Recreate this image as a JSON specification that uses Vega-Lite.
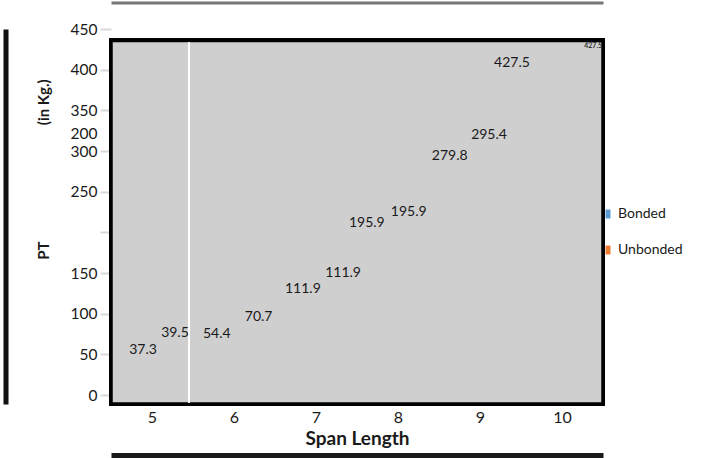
{
  "$schema": "https://vega.github.io/schema/vega-lite/v6.json",
  "autosize": {"type": "none"},
  "width": 492,
  "height": 375,
  "padding": {"left": 111, "top": 29, "right": 106, "bottom": 54},
  "background": "white",
  "config": {"view": {"stroke": null}},
  "data": {"values": [
    {"span": 4.89, "pt": 55.3, "label": "37.3", "series": "Bonded"},
    {"span": 5.28, "pt": 76.2, "label": "39.5", "series": "Unbonded"},
    {"span": 5.79, "pt": 75.0, "label": "54.4", "series": "Bonded"},
    {"span": 6.30, "pt": 95.9, "label": "70.7", "series": "Unbonded"},
    {"span": 6.84, "pt": 130.3, "label": "111.9", "series": "Bonded"},
    {"span": 7.33, "pt": 150.0, "label": "111.9", "series": "Unbonded"},
    {"span": 7.62, "pt": 211.5, "label": "195.9", "series": "Bonded"},
    {"span": 8.13, "pt": 225.0, "label": "195.9", "series": "Unbonded"},
    {"span": 8.63, "pt": 293.9, "label": "279.8", "series": "Bonded"},
    {"span": 9.11, "pt": 319.7, "label": "295.4", "series": "Unbonded"},
    {"span": 9.39, "pt": 408.2, "label": "427.5", "series": "Bonded"},
    {"span": 10.38, "pt": 429.6, "label": "427.5", "series": "Unbonded"}
  ]},
  "resolve": {"axis": {"x": "independent", "y": "independent"}},
  "layer": [
    {
      "mark": {"type": "rect", "fill": "#d0cfd0", "stroke": "#000000", "strokeWidth": 3.5},
      "encoding": {
        "x": {"datum": 4.5, "type": "quantitative", "scale": {"domain": [4.5, 10.5], "nice": false, "zero": false},
          "axis": {"orient": "bottom", "values": [5, 6, 7, 8, 9, 10], "format": "d", "domain": false, "ticks": false, "tickSize": 0, "grid": false,
            "labelFont": "Lato", "labelFontSize": 16, "labelColor": "#1a1a1a", "labelPadding": 5,
            "title": "Span Length", "titleFont": "Lato", "titleFontSize": 19, "titleFontWeight": "bold", "titleColor": "#1a1a1a", "titlePadding": 4}},
        "x2": {"datum": 10.5},
        "y": {"datum": -11, "type": "quantitative", "scale": {"domain": [-11, 450], "nice": false, "zero": false},
          "axis": {"orient": "left", "values": [0, 50, 100, 150, 200, 250, 300, 321, 350, 400, 450], "format": "d",
            "labelExpr": "datum.value == 200 ? '' : (datum.value == 321 ? '200' : datum.label)",
            "tickOpacity": {"condition": {"test": "datum.value == 321", "value": 0}, "value": 1},
            "domain": false, "grid": false, "tickSize": 11, "tickWidth": 2, "tickColor": "#d9d9d9",
            "labelFont": "Lato", "labelFontSize": 15.5, "labelColor": "#1a1a1a", "labelPadding": 3,
            "title": "PT\u00a0\u00a0\u00a0\u00a0\u00a0\u00a0\u00a0\u00a0\u00a0\u00a0\u00a0\u00a0\u00a0\u00a0\u00a0\u00a0\u00a0\u00a0\u00a0\u00a0\u00a0\u00a0\u00a0\u00a0\u00a0\u00a0\u00a0\u00a0\u00a0\u00a0\u00a0\u00a0(in Kg.)",
            "titleFont": "Lato", "titleFontSize": 15, "titleFontWeight": "bold", "titleColor": "#1a1a1a", "titleX": -60, "titleY": 140}},
        "y2": {"datum": 436}
      }
    },
    {
      "mark": {"type": "rule", "color": "#ffffff", "strokeWidth": 1.5},
      "encoding": {
        "x": {"datum": 5.45, "type": "quantitative", "axis": null},
        "y": {"datum": -9, "type": "quantitative", "axis": null},
        "y2": {"datum": 434}
      }
    },
    {
      "transform": [{"filter": "datum.span < 10"}],
      "mark": {"type": "text", "font": "Lato", "fontSize": 14, "color": "#1a1a1a", "align": "center", "baseline": "middle"},
      "encoding": {
        "x": {"field": "span", "type": "quantitative", "axis": null},
        "y": {"field": "pt", "type": "quantitative", "axis": null},
        "text": {"field": "label"}
      }
    },
    {
      "transform": [{"filter": "datum.span >= 10"}],
      "mark": {"type": "text", "font": "Lato", "fontSize": 7, "fontWeight": "bold", "color": "#333333", "align": "center", "baseline": "middle"},
      "encoding": {
        "x": {"field": "span", "type": "quantitative", "axis": null},
        "y": {"field": "pt", "type": "quantitative", "axis": null},
        "text": {"field": "label"}
      }
    },
    {
      "mark": {"type": "point", "filled": true, "opacity": 0},
      "encoding": {
        "x": {"field": "span", "type": "quantitative", "axis": null},
        "y": {"field": "pt", "type": "quantitative", "axis": null},
        "color": {"field": "series", "type": "nominal",
          "scale": {"domain": ["Bonded", "Unbonded"], "range": ["#5b9bd5", "#ed7d31"]},
          "legend": {"title": null, "orient": "none", "legendX": 490, "legendY": 178, "padding": 0,
            "symbolType": "M-0.55,-1H0.55V1H-0.55Z", "symbolSize": 81, "symbolOpacity": 1, "symbolStrokeWidth": 0,
            "labelFont": "Lato", "labelFontSize": 14, "labelColor": "#1a1a1a", "labelOffset": 3, "rowPadding": 22}}
      }
    },
    {
      "mark": {"type": "point", "opacity": 0},
      "encoding": {
        "x": {"datum": 5, "type": "quantitative",
          "axis": {"orient": "bottom", "offset": 51, "domain": true, "domainColor": "#1a1a1a", "domainWidth": 5, "ticks": false, "labels": false, "grid": false, "title": null}},
        "y": {"datum": 0, "type": "quantitative",
          "axis": {"orient": "left", "offset": 105.5, "domain": true, "domainColor": "#111111", "domainWidth": 5, "ticks": false, "labels": false, "grid": false, "title": null}}
      }
    },
    {
      "mark": {"type": "point", "opacity": 0},
      "encoding": {
        "x": {"datum": 5, "type": "quantitative",
          "axis": {"orient": "top", "offset": 26.5, "domain": true, "domainColor": "#777777", "domainWidth": 3, "ticks": false, "labels": false, "grid": false, "title": null}},
        "y": {"datum": 0, "type": "quantitative", "axis": null}
      }
    }
  ]
}
